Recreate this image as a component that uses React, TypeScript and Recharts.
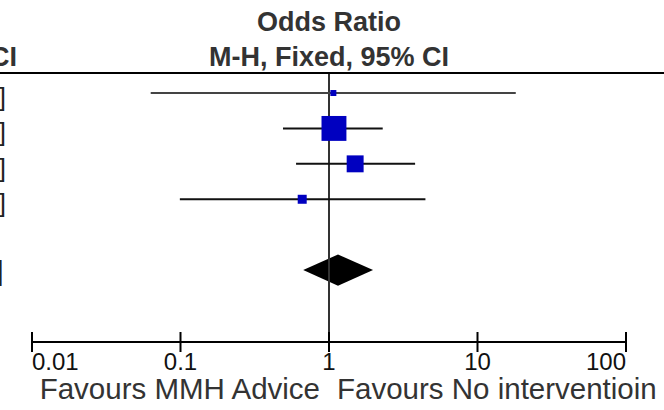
import React from "react";
import {
  ComposedChart,
  ReferenceArea,
  ReferenceLine,
  Scatter,
  XAxis,
  YAxis,
} from "recharts";

// study rows (odds ratio, 95% CI, weight %)
const rowPos = [0, 1, 2, 3];
const oddsRatio = [1.07, 1.08, 1.5, 0.66];
const ciLow = [0.063, 0.49, 0.6, 0.099];
const ciHigh = [18.1, 2.3, 3.8, 4.46];
const weight = [3.5, 60.6, 28.0, 7.9];

// pooled estimate
const totalPos = 5;
const totalOR = 1.15;
const totalLow = 0.67;
const totalHigh = 1.98;

const xTicks = [0.01, 0.1, 1, 10, 100];
const xTickLabels = ["0.01", "0.1", "1", "10", "100"];

const FONT = '"Liberation Sans", Arial, Helvetica, sans-serif';
const W = 664;
const H = 410;

const squares = rowPos.map((y, i) => ({ x: oddsRatio[i], y, w: weight[i] }));

function fmtCI(or: number, lo: number, hi: number) {
  return `${or.toFixed(2)} [${lo.toFixed(2)}, ${hi.toFixed(2)}]`;
}

function SquareShape(props: any) {
  const { cx, cy, payload } = props;
  const s = 3.2 * Math.sqrt(payload.w);
  return <rect x={cx - s / 2} y={cy - s / 2} width={s} height={s} fill="#0000C0" />;
}

function DiamondShape(props: any) {
  const { x, y, width, height } = props;
  const top = Math.min(y, y + height);
  const h = Math.abs(height);
  const frac =
    (Math.log10(totalOR) - Math.log10(totalLow)) /
    (Math.log10(totalHigh) - Math.log10(totalLow));
  const px = x + width * frac;
  const pts = [
    [x, top + h / 2],
    [px, top],
    [x + width, top + h / 2],
    [px, top + h],
  ]
    .map((p) => p.join(","))
    .join(" ");
  return <polygon points={pts} fill="#000" />;
}

function AxisTick(props: any) {
  const { x, y, payload, index } = props;
  const axisY = y - 10;
  const anchor = index === 0 ? "start" : index === xTicks.length - 1 ? "end" : "middle";
  return (
    <g>
      <line x1={x} x2={x} y1={axisY - 10} y2={axisY + 10} stroke="#000" strokeWidth={2} />
      <text
        x={x}
        y={axisY + 28}
        textAnchor={anchor}
        fontSize={24}
        fontFamily={FONT}
        fill="#111"
      >
        {xTickLabels[xTicks.indexOf(payload.value)]}
      </text>
    </g>
  );
}

export default function App() {
  return (
    <div style={{ position: "absolute", left: 0, top: 0, width: W, height: H, background: "#fff" }}>
      <ComposedChart
        width={W}
        height={H}
        margin={{ top: 73, right: 38, left: 32, bottom: 0 }}
      >
        <XAxis
          type="number"
          dataKey="x"
          scale="log"
          domain={[0.01, 100]}
          ticks={xTicks}
          allowDataOverflow
          height={68}
          stroke="#000"
          strokeWidth={2}
          tickSize={10}
          tickMargin={0}
          tickLine={false}
          tick={<AxisTick />}
          interval={0}
        />
        <YAxis
          type="number"
          dataKey="y"
          domain={[-0.565, 7.03]}
          reversed
          hide
          width={0}
          allowDataOverflow
        />
        <ReferenceLine x={1} stroke="#333" strokeWidth={2} />
        {rowPos.map((y, i) => (
          <ReferenceLine
            key={i}
            segment={[
              { x: ciLow[i], y },
              { x: ciHigh[i], y },
            ]}
            stroke={i === 0 ? "#444" : "#111"}
            strokeWidth={2}
          />
        ))}
        <ReferenceArea
          x1={totalLow}
          x2={totalHigh}
          y1={totalPos - 0.44}
          y2={totalPos + 0.44}
          shape={<DiamondShape />}
        />
        <Scatter data={squares} shape={<SquareShape />} isAnimationActive={false} />
      </ComposedChart>

      <svg
        width={W}
        height={H}
        style={{ position: "absolute", left: 0, top: 0, pointerEvents: "none" }}
        fontFamily={FONT}
      >
        <text x={329} y={31} textAnchor="middle" fontSize={27} fontWeight="bold" fill="#333">
          Odds Ratio
        </text>
        <text x={329} y={66} textAnchor="middle" fontSize={27} fontWeight="bold" fill="#333">
          M-H, Fixed, 95% CI
        </text>
        <text x={17} y={66} textAnchor="end" fontSize={27} fontWeight="bold" fill="#333">
          95% CI
        </text>
        <line x1={0} x2={W} y1={73} y2={73} stroke="#000" strokeWidth={2} />
        {rowPos.map((p, i) => (
          <text key={i} x={6} y={106 + p * 35.4} textAnchor="end" fontSize={26} fill="#222">
            {fmtCI(oddsRatio[i], ciLow[i], ciHigh[i])}
          </text>
        ))}
        <text x={3} y={280} textAnchor="end" fontSize={28} fontWeight="bold" fill="#222">
          {fmtCI(totalOR, totalLow, totalHigh)}
        </text>
        <text x={320} y={399} textAnchor="end" fontSize={29.5} fill="#333">
          Favours MMH Advice
        </text>
        <text x={337} y={399} textAnchor="start" fontSize={29.5} fill="#333">
          Favours No interventioin
        </text>
      </svg>
    </div>
  );
}
